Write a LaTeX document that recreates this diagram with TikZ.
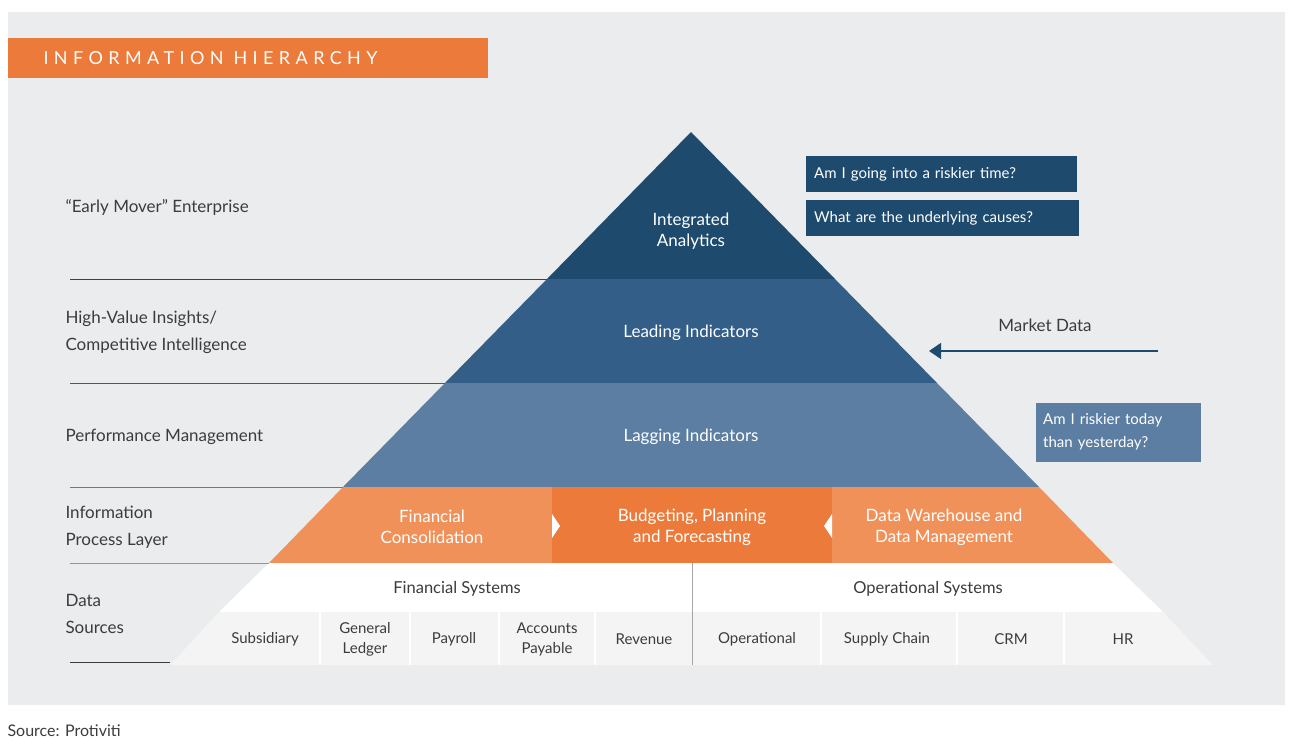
\documentclass[tikz,border=0pt]{standalone}
\usepackage{fontspec}
\setmainfont{Lato}
\usetikzlibrary{positioning,arrows.meta,calc}
\definecolor{bgGray}{RGB}{235, 236, 237}
\definecolor{navyTop}{RGB}{30, 74, 110}
\definecolor{navyMid}{RGB}{50, 94, 136}
\definecolor{blueLow}{RGB}{92, 126, 162}
\definecolor{orangeLight}{RGB}{240, 145, 90}
\definecolor{orangeDark}{RGB}{236, 122, 59}
\definecolor{rowGray}{RGB}{244, 244, 245}
\definecolor{textGray}{RGB}{60, 60, 60}

\begin{document}
\begin{tikzpicture}[x=1pt, y=-1pt,
        layer/.style={text=white, font=\fontsize{17}{21}\selectfont, align=center},
        sidelabel/.style={anchor=west, text=textGray, font=\fontsize{17}{27}\selectfont, align=left},
        question/.style={fill=navyTop, text=white, font=\fontsize{15}{19}\selectfont, anchor=west, inner sep=0pt, align=left},
        syslabel/.style={text=textGray, font=\fontsize{16.5}{20}\selectfont},
        cell/.style={text=textGray, font=\fontsize{15}{20}\selectfont, align=center},
        sep/.style={line width=1pt}
    ]
        \useasboundingbox (0,0) rectangle (1300,752);
        % Background and title
        \fill[bgGray] (8,12) rectangle (1285,705);
        \fill[orangeDark] (8,38) rectangle (488,78);
        \node[text=white, font=\fontsize{18}{20}\selectfont\addfontfeature{LetterSpace=30}, anchor=west] (title) at (40,58) {INFORMATION HIERARCHY};
        \node[anchor=west, text=textGray, font=\fontsize{16}{20}\selectfont] (source) at (4,731) {Source: Protiviti};
        
        % Pyramid layers
        \fill[navyTop] (691,132) -- (835,279) -- (547,279) -- cycle;
        \fill[navyMid] (547,279) -- (835,279) -- (937,383) -- (445,383) -- cycle;
        \fill[blueLow] (445,383) -- (937,383) -- (1039,487) -- (343,487) -- cycle;
        \fill[orangeLight] (343,487) -- (1039,487) -- (1113,563) -- (269,563) -- cycle;
        \fill[orangeDark] (552,487) rectangle (832,563);
        \fill[white] (552,514) -- (560,526) -- (552,538) -- cycle;
        \fill[white] (832,514) -- (824,526) -- (832,538) -- cycle;
        \fill[white] (269,563) -- (1113,563) -- (1163,612) -- (219,612) -- cycle;
        \fill[rowGray] (219,612) -- (1163,612) -- (1213,665) -- (170,665) -- cycle;
        \draw[gray!70, sep] (692,563) -- (692,665);
        \foreach \xc in {320,410,499,595,821,957,1064}
            \draw[white, line width=1.5pt] (\xc,612) -- (\xc,665);
        
        % Layer texts
        \node[layer] (analytics) at (691,231) {Integrated\\Analytics};
        \node[layer] (leading) at (691,333) {Leading Indicators};
        \node[layer] (lagging) at (691,437) {Lagging Indicators};
        \node[layer] (consolidation) at (432,527) {Financial\\Consolidation};
        \node[layer] (budgeting) at (692,527) {Budgeting, Planning\\and Forecasting};
        \node[layer] (warehouse) at (944,527) {Data Warehouse and\\Data Management};
        \node[syslabel] (finsys) at (457,589) {Financial Systems};
        \node[syslabel] (opsys) at (928,589) {Operational Systems};
        
        % Bottom row cells
        \node[cell] (subsidiary) at (265,639) {Subsidiary};
        \node[cell] (ledger) at (365,639) {General\\Ledger};
        \node[cell] (payroll) at (454,639) {Payroll};
        \node[cell] (payable) at (547,639) {Accounts\\Payable};
        \node[cell] (revenue) at (644,639) {Revenue};
        \node[cell] (operational) at (757,639) {Operational};
        \node[cell] (supply) at (887,639) {Supply Chain};
        \node[cell] (crm) at (1011,639) {CRM};
        \node[cell] (hr) at (1123,639) {HR};
        
        % Side labels and rules
        \node[sidelabel] (mover) at (62,207) {“Early Mover” Enterprise};
        \node[sidelabel] (insights) at (62,332) {High-Value Insights/\\Competitive Intelligence};
        \node[sidelabel] (performance) at (62,437) {Performance Management};
        \node[sidelabel] (process) at (62,527) {Information\\Process Layer};
        \node[sidelabel] (sources) at (62,614) {Data\\Sources};
        \draw[navyTop, sep] (70,279) -- (547,279);
        \draw[navyMid, sep] (70,383) -- (445,383);
        \draw[blueLow, sep] (70,487) -- (343,487);
        \draw[orangeDark, sep] (70,563) -- (269,563);
        \draw[textGray, sep] (70,662) -- (170,662);
        
        % Right-hand notes
        \node[question, minimum width=271pt, minimum height=36pt, text width=255pt, inner xsep=8pt] (riskier) at (806,174) {Am I going into a riskier time?};
        \node[question, minimum width=273pt, minimum height=36pt, text width=257pt, inner xsep=8pt] (causes) at (806,218) {What are the underlying causes?};
        \node[question, fill=blueLow, minimum width=165pt, minimum height=59pt, text width=151pt, inner xsep=7pt, font=\fontsize{15}{23}\selectfont] (today) at (1036,432) {Am I riskier today\\than yesterday?};
        \node[text=textGray, font=\fontsize{17}{20}\selectfont] (market) at (1045,325) {Market Data};
        \coordinate (marketStart) at (1158,351);
        \coordinate (marketEnd) at (929,351);
        \draw[navyTop, line width=1.3pt, -{Triangle[length=12pt, width=16pt]}] (marketStart) -- (marketEnd);
    \end{tikzpicture}
\end{document}
